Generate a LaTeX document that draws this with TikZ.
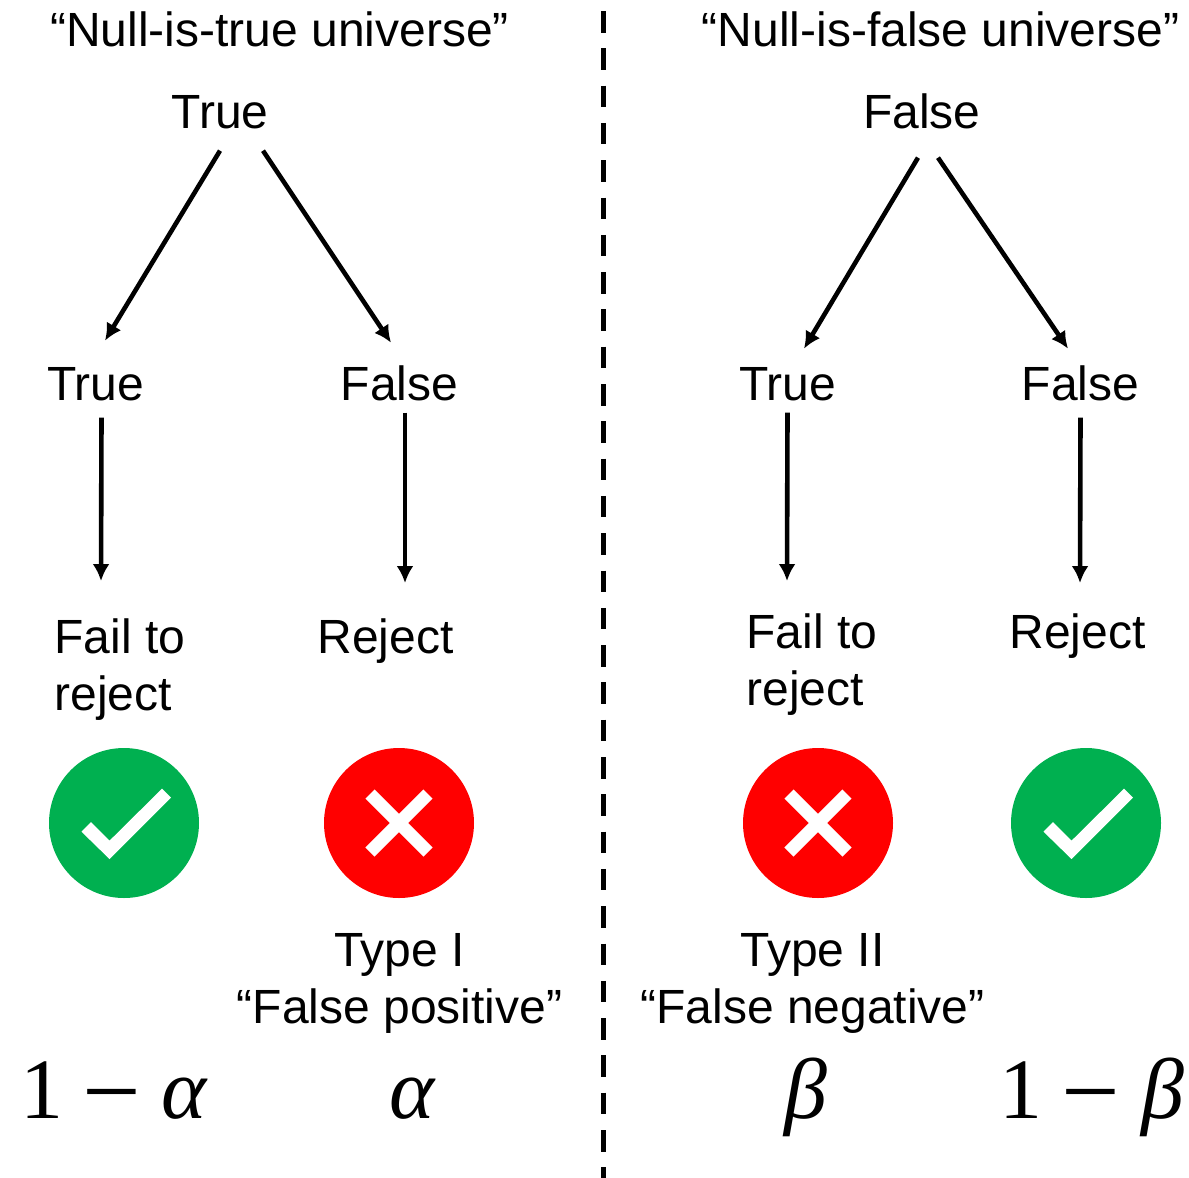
\documentclass[tikz,border=0pt]{standalone}
\usepackage{fontspec}
\setmainfont{Liberation Sans}
\newfontfamily\symfont{Liberation Serif}
\usetikzlibrary{arrows.meta}
\definecolor{okgreen}{RGB}{0,176,80}
\newcommand{\bigminus}{\hspace{0.22em}{\fontsize{104}{90}\selectfont\raisebox{-8pt}{−}}\hspace{0.24em}}
\tikzset{
label/.style={inner sep=0pt,anchor=base,font=\fontsize{48}{57}\selectfont},
sym/.style={inner sep=0pt,anchor=base,font=\fontsize{86}{90}\selectfont\symfont},
link/.style={line width=4.6pt,-{Latex[length=17pt,width=17pt]}},
disc/.style={circle,inner sep=0pt,minimum size=150pt}
}
\begin{document}
\begin{tikzpicture}[x=1pt,y=-1pt]

\useasboundingbox (0,0) rectangle (1189,1178);

\draw[line width=5pt,dash pattern=on 21.5pt off 15.8pt] (603,11)--(603,1178);

\node[label] (headA) at (279.5,46) {“Null-is-true universe”};
\node[label] (headB) at (940.5,46) {“Null-is-false universe”};

\node[label] (rootA) at (220,128) {True};
\node[label] (rootB) at (922,128) {False};

\node[label] (trueA) at (95.5,400) {True};
\node[label] (falseA) at (399.5,400) {False};
\node[label] (trueB) at (787.5,400) {True};
\node[label] (falseB) at (1080.5,400) {False};

\node[label,align=left] (failA) at (120,710) {Fail to\\reject};
\node[label] (rejectA) at (385.5,653) {Reject};
\node[label,align=left] (failB) at (812,705) {Fail to\\reject};
\node[label] (rejectB) at (1077.5,648) {Reject};

\draw[link] ([shift={(0,22)}]rootA.south)--([shift={(-115,212)}]rootA.south);
\draw[link] ([shift={(43,22)}]rootA.south)--([shift={(171,214)}]rootA.south);
\draw[link] ([shift={(-4,29)}]rootB.south)--([shift={(-118,220)}]rootB.south);
\draw[link] ([shift={(16,29)}]rootB.south)--([shift={(146,220)}]rootB.south);

\draw[link] ([xshift=6pt,yshift=-17pt]trueA.south)--([xshift=-19pt,yshift=37pt]failA.north);
\draw[link] ([xshift=5.5pt,yshift=-12pt]falseA.south)--([xshift=19.5pt,yshift=35pt]rejectA.north);
\draw[link] ([yshift=-12pt]trueB.south)--([xshift=-25pt,yshift=32pt]failB.north);
\draw[link] ([yshift=-17pt]falseB.south)--([xshift=2.5pt,yshift=30pt]rejectB.north);

\foreach \n/\x in {okA/124,okB/1086}{
\node[disc,fill=okgreen] (\n) at (\x,823) {};
\fill[white] (\x,823) ++(-42.5,8.7)--++(9.5,-9.7)--++(18.5,18.7)--++(52.5,-52)--++(9,9)--++(-61.5,61.3)--cycle;
}
\foreach \n/\x in {noA/399,noB/818}{
\node[disc,fill=red] (\n) at (\x,823) {};
\draw[white,line width=13pt] (\x-29,794)--(\x+29,852);
\draw[white,line width=13pt] (\x-29,852)--(\x+29,794);
}

\node[label,align=center] (typeA) at (399.5,1023) {Type I\\“False positive”};
\node[label,align=center] (typeB) at (812.5,1023) {Type II\\“False negative”};

\node[sym] (symA) at (114,1118) {1\bigminus\textit{α}};
\node[sym] (symB) at (413,1118) {\textit{α}};
\node[sym] (symC) at (806,1118) {\textit{β}};
\node[sym] (symD) at (1092,1118) {1\bigminus\textit{β}};

\end{tikzpicture}
\end{document}
